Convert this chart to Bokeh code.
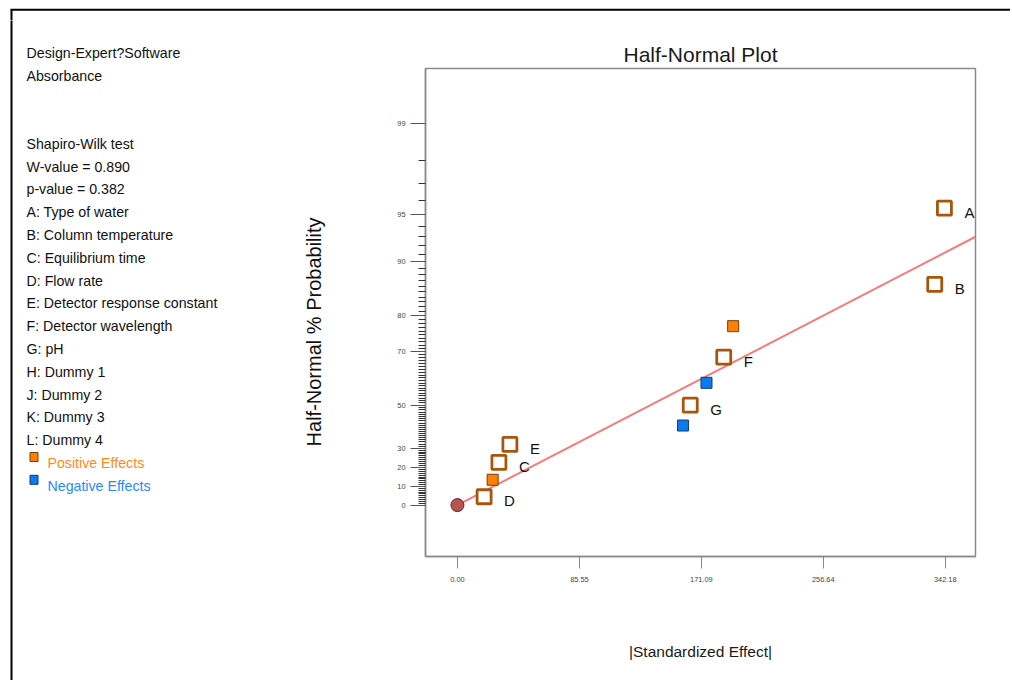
from statistics import NormalDist
from bokeh.plotting import figure
from bokeh.layouts import row, column
from bokeh.models import (Range1d, FixedTicker, PrintfTickFormatter, CustomJSTickFormatter,
                          ColumnDataSource)
from bokeh.core.properties import value
from bokeh.embed import file_html
from bokeh.resources import INLINE

# ---------------- data ----------------
terms   = ["D", "H", "C", "E", "J", "G", "K", "F", "L", "B", "A"]
effects = [18.7, 24.7, 29.1, 36.8, 158.2, 163.3, 174.7, 186.8, 193.4, 334.8, 341.6]
probs   = [4.5, 13.6, 22.7, 31.8, 40.9, 50.0, 59.1, 68.2, 77.3, 86.4, 95.5]
kinds   = ["term", "pos", "term", "term", "neg", "term", "neg", "term", "pos", "term", "term"]

fit_effect = [0.0, 363.4]
fit_prob = [0.0, 93.0]

origin_effect = [0.0]
origin_prob = [0.0]

x_ticks = [0.00, 85.55, 171.09, 256.64, 342.18]
y_major_pct = [0, 10, 20, 30, 50, 70, 80, 90, 95, 99]
y_minor_pct = [v for v in range(1, 99) if v not in y_major_pct]

header_lines = ["Design-Expert?Software", "Absorbance"]
info_lines = ["Shapiro-Wilk test", "W-value = 0.890", "p-value = 0.382",
              "A: Type of water", "B: Column temperature", "C: Equilibrium time",
              "D: Flow rate", "E: Detector response constant", "F: Detector wavelength",
              "G: pH", "H: Dummy 1", "J: Dummy 2", "K: Dummy 3", "L: Dummy 4"]
legend_labels = ["Positive Effects", "Negative Effects"]
legend_fill = ["#ff8000", "#0a7cf2"]
legend_line = ["#7a3a00", "#16386a"]
legend_text_color = ["#ff8a1c", "#1e8cff"]

# half-normal probability scale
ND = NormalDist()
def hn(p):
    return ND.inv_cdf(0.5 + p / 200.0)

FONT = "Liberation Sans"

TOTAL_W, TOTAL_H = 1010, 680
TOP_H = 20
LEFT_W = 300
FL, FR, FT, FB = 423, 975, 68, 556  # frame edges in page px

def blank(width, height, xr, yr):
    f = figure(width=width, height=height, output_backend="svg", toolbar_location=None,
               x_range=Range1d(*xr), y_range=Range1d(*yr),
               x_axis_location=None, y_axis_location=None,
               min_border_left=0, min_border_right=0, min_border_top=0, min_border_bottom=0)
    f.grid.visible = False
    f.outline_line_color = None
    f.background_fill_color = "white"
    f.border_fill_color = "white"
    f.frame_align = False
    return f

# ---- top strip with the black border line ----
top = blank(TOTAL_W, TOP_H, (0, TOTAL_W), (TOP_H, 0))
top.line([10, TOTAL_W + 40], [9.3, 9.3], line_color="black", line_width=2)
top.line([11, 11], [9.3, TOP_H + 5], line_color="black", line_width=2)

# ---- left text panel ----
left = blank(LEFT_W, TOTAL_H - TOP_H, (0, LEFT_W), (TOTAL_H, TOP_H))
left.line([11, 11], [TOP_H - 5, TOTAL_H + 5], line_color="black", line_width=2)
step = 22.8
FS = "14.2px"
left.text([26] * len(header_lines), [52.7 + step * i for i in range(len(header_lines))],
          text=header_lines, text_font=value(FONT), text_font_size=FS,
          text_color="#111111", text_baseline="alphabetic")
left.text([26] * len(info_lines), [143.3 + step * i for i in range(len(info_lines))],
          text=info_lines, text_font=value(FONT), text_font_size=FS,
          text_color="#111111", text_baseline="alphabetic")
ly = [143.3 + step * (len(info_lines) + i) for i in range(2)]
left.text([47, 47], ly, text=legend_labels, text_font=value(FONT), text_font_size=FS,
          text_color=legend_text_color, text_baseline="alphabetic")
left.rect([33.5, 33.5], [y - 6 for y in ly], width=8, height=9, fill_color=legend_fill,
          line_color=legend_line, line_width=1)

# ---- main plot ----
MW = TOTAL_W - LEFT_W
MH = TOTAL_H - TOP_H
p = figure(width=MW, height=MH, output_backend="svg", toolbar_location=None,
           x_range=Range1d(-22.4, 363.4), y_range=Range1d(-0.347, 2.948),
           min_border_left=FL - LEFT_W, min_border_right=LEFT_W + MW - FR,
           min_border_top=FT - TOP_H, min_border_bottom=TOP_H + MH - FB)
p.frame_align = False
p.grid.visible = False
p.background_fill_color = "white"
p.border_fill_color = "white"
p.outline_line_color = "#8a8a8a"
p.outline_line_width = 1.5

p.title.text = "Half-Normal Plot"
p.title.align = "center"
p.title.text_font = FONT
p.title.text_font_size = "21px"
p.title.text_font_style = "normal"
p.title.text_color = "#1a1a1a"
p.title.standoff = 5.5

xa = p.xaxis[0]
xa.ticker = FixedTicker(ticks=x_ticks)
xa.formatter = PrintfTickFormatter(format="%.2f")
xa.major_tick_out = 12
xa.major_tick_in = 0
xa.minor_tick_out = 0
xa.minor_tick_in = 0
xa.major_tick_line_color = "#888888"
xa.axis_line_color = "#8a8a8a"
xa.axis_line_width = 1.5
xa.major_label_standoff = 8
xa.major_label_text_font = FONT
xa.major_label_text_font_size = "7.4px"
xa.major_label_text_color = "#444444"
xa.axis_label = "|Standardized Effect|"
xa.axis_label_text_font = FONT
xa.axis_label_text_font_size = "15.5px"
xa.axis_label_text_font_style = "normal"
xa.axis_label_text_color = "#1a1a1a"
xa.axis_label_standoff = 58

ya = p.yaxis[0]
zmaj = [hn(v) for v in y_major_pct]
ya.ticker = FixedTicker(ticks=zmaj, minor_ticks=[hn(v) for v in y_minor_pct])
ya.formatter = CustomJSTickFormatter(args=dict(zs=zmaj, labs=[str(v) for v in y_major_pct]), code="""
    for (let i = 0; i < zs.length; i++) { if (Math.abs(zs[i] - tick) < 1e-6) return labs[i]; }
    return "";
""")
ya.major_tick_out = 15
ya.major_tick_in = 0
ya.minor_tick_out = 7
ya.minor_tick_in = 0
ya.major_tick_line_color = "#555555"
ya.minor_tick_line_color = "#333333"
ya.axis_line_color = "#8a8a8a"
ya.axis_line_width = 1.5
ya.major_label_standoff = 5
ya.major_label_text_font = FONT
ya.major_label_text_font_size = "7.4px"
ya.major_label_text_color = "#444444"
ya.axis_label = "Half-Normal % Probability" + "\u00a0" * 7
ya.axis_label_text_font = FONT
ya.axis_label_text_font_size = "20px"
ya.axis_label_text_font_style = "normal"
ya.axis_label_text_color = "#111111"
ya.axis_label_standoff = 69

# fitted line
p.line(fit_effect, [hn(v) for v in fit_prob], line_color="#f47c7c", line_width=2)

# points
def sel(kind):
    idx = [i for i, k in enumerate(kinds) if k == kind]
    return ColumnDataSource(dict(x=[effects[i] for i in idx], y=[hn(probs[i]) for i in idx],
                                 t=[terms[i] for i in idx]))

src_term = sel("term")
p.scatter("x", "y", source=src_term, marker="square", size=14, fill_color="white",
          line_color="#a8560c", line_width=2.8)
p.text("x", "y", text="t", source=src_term, x_offset=20, y_offset=4,
       text_font=value(FONT), text_font_size="15px", text_color="#111111",
       text_align="left", text_baseline="middle")
p.scatter("x", "y", source=sel("pos"), marker="square", size=11, fill_color="#ff8000",
          line_color="#7a3a00", line_width=1)
p.scatter("x", "y", source=sel("neg"), marker="square", size=11, fill_color="#0a7cf2",
          line_color="#16386a", line_width=1)
p.scatter(origin_effect, [hn(v) for v in origin_prob], marker="circle", size=13,
          fill_color="#b85450", line_color="#5a2a2a", line_width=1)

layout = column(top, row(left, p))
open("out.html", "w").write(file_html(layout, INLINE))
